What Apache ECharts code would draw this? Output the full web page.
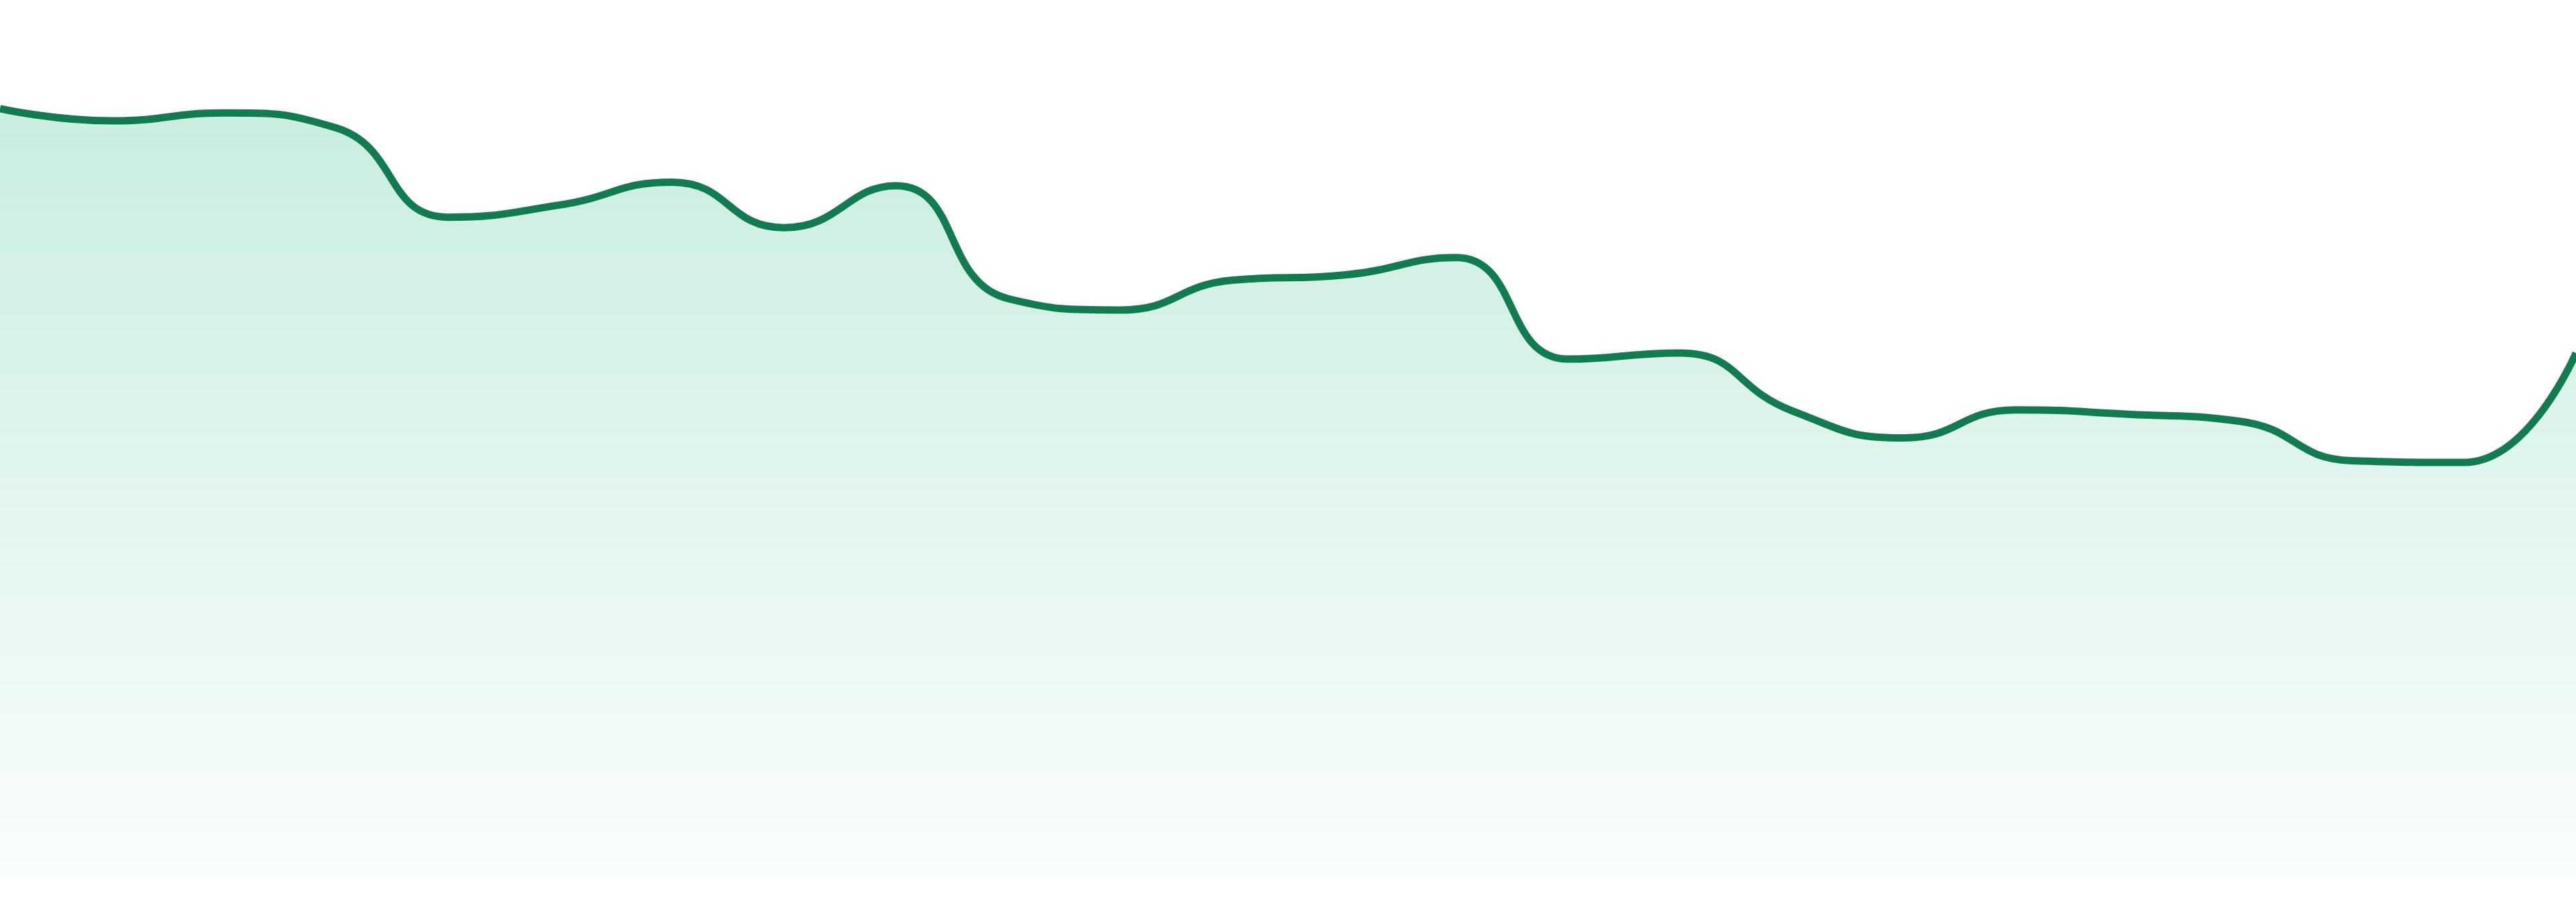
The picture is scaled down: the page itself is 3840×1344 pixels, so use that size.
<!DOCTYPE html>
<html>
<head>
<meta charset="utf-8">
<title>Trend</title>
<script src="https://cdn.jsdelivr.net/npm/echarts@6/dist/echarts.min.js"></script>
<style>
    html, body { margin: 0; padding: 0; background: #fff; }
    #trendChart { width: 3840px; height: 1344px; }
</style>
</head>
<body>
<div id="trendChart"></div>
<script>
var categories = ['01', '02', '03', '04', '05', '06', '07', '08', '09', '10', '11', '12',
    '13', '14', '15', '16', '17', '18', '19', '20', '21', '22', '23', '24'];
var values = [87.6, 86.2, 87.1, 85.4, 75.2, 76.6, 79.2, 74.0, 78.8, 65.9, 64.6, 68.0,
    68.6, 70.6, 59.0, 59.7, 53.1, 50.0, 53.2, 52.7, 51.9, 47.4, 47.2, 59.7];

document.addEventListener('DOMContentLoaded', function () {
    var chartDom = document.getElementById('trendChart');
    var myChart = echarts.init(chartDom);
    var option;

    option = {
        animation: false,
        grid: {
            left: 0,
            right: 0,
            top: 0,
            bottom: 39
        },
        xAxis: {
            type: 'category',
            boundaryGap: false,
            data: categories,
            show: false
        },
        yAxis: {
            type: 'value',
            min: 0,
            max: 100,
            show: false
        },
        series: [
            {
                type: 'line',
                data: values,
                smooth: true,
                symbol: 'none',
                lineStyle: {
                    color: '#127b52',
                    width: 11
                },
                areaStyle: {
                    color: new echarts.graphic.LinearGradient(0, 0, 0, 1, [
                        { offset: 0, color: 'rgba(18, 178, 115, 0.32)' },
                        { offset: 1, color: 'rgba(18, 178, 115, 0.03)' }
                    ])
                }
            }
        ]
    };

    option && myChart.setOption(option);
});
</script>
</body>
</html>
